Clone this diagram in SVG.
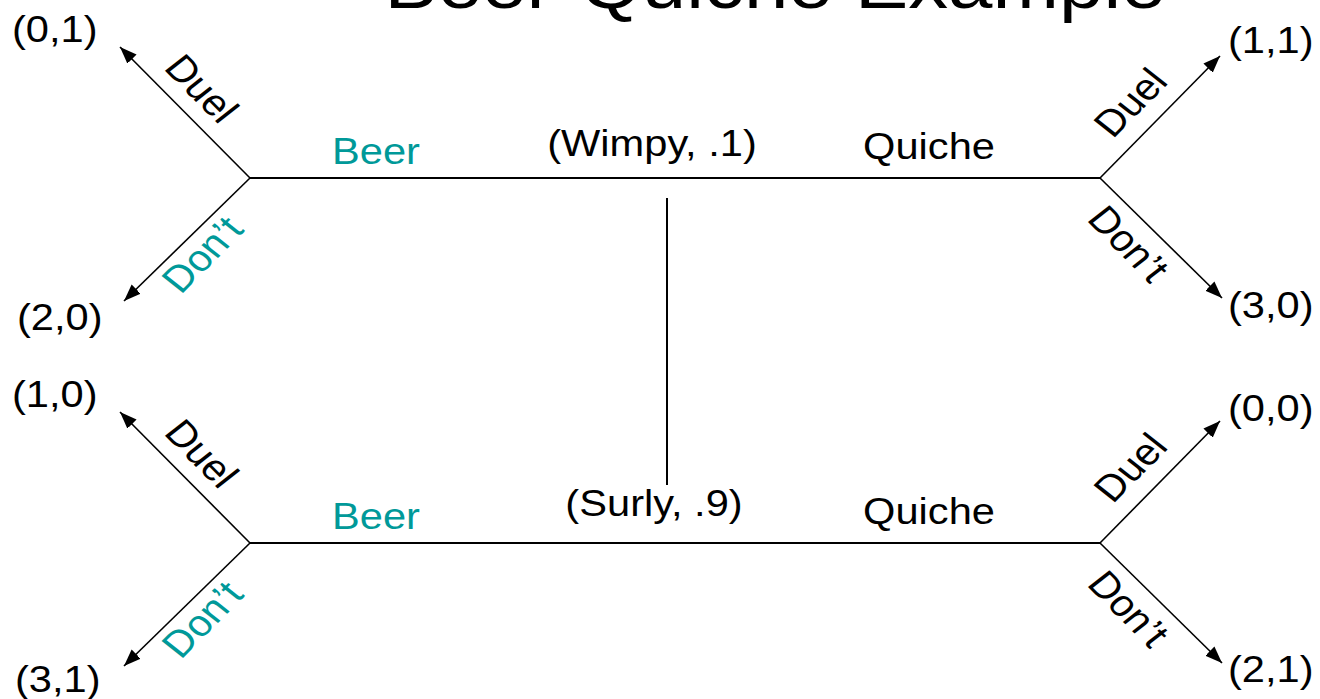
<svg xmlns="http://www.w3.org/2000/svg" width="1320" height="699" viewBox="0 0 1320 699">
<style>
text{font-family:"Liberation Sans",Arial,sans-serif;font-size:37px;fill:#000}
.teal{fill:#009999}
.title{font-size:71px}
.edge{stroke:#000;stroke-width:2;fill:none}
.arr{stroke:#000;stroke-width:1.6;fill:none;marker-end:url(#ah)}
</style>
<defs>
<marker id="ah" markerUnits="userSpaceOnUse" markerWidth="18" markerHeight="14" refX="17" refY="6.5" orient="auto">
<path d="M0,0 L17,6.5 L0,13 z" fill="#000"/>
</marker>
</defs>
<rect width="1320" height="699" fill="#fff"/>
<text class="title" text-anchor="middle" transform="translate(775,8) scale(1.125,1)">Beer-Quiche Example</text>
<g id="connectors">
<line class="edge" x1="250" y1="178" x2="1100" y2="178"/>
<line class="edge" x1="250" y1="543" x2="1100" y2="543"/>
<line class="edge" x1="667" y1="198" x2="667" y2="485"/>
<line class="arr" x1="250" y1="178" x2="120" y2="47"/>
<line class="arr" x1="250" y1="178" x2="124" y2="301"/>
<line class="arr" x1="1100" y1="178" x2="1220" y2="56"/>
<line class="arr" x1="1100" y1="178" x2="1222" y2="298"/>
<line class="arr" x1="250" y1="543" x2="120" y2="412"/>
<line class="arr" x1="250" y1="543" x2="124" y2="666"/>
<line class="arr" x1="1100" y1="543" x2="1220" y2="421"/>
<line class="arr" x1="1100" y1="543" x2="1222" y2="663"/>
</g>
<g id="wimpy">
<text text-anchor="middle" transform="translate(652,156) scale(1.125,1)">(Wimpy, .1)</text>
</g>
<g id="surly">
<text text-anchor="middle" transform="translate(654,516) scale(1.125,1)">(Surly, .9)</text>
</g>
<g id="edge-labels">
<text class="teal" text-anchor="middle" transform="translate(376,164) scale(1.125,1)">Beer</text>
<text text-anchor="middle" transform="translate(929,159) scale(1.125,1)">Quiche</text>
<text class="teal" text-anchor="middle" transform="translate(376,529) scale(1.125,1)">Beer</text>
<text text-anchor="middle" transform="translate(929,524) scale(1.125,1)">Quiche</text>
<text text-anchor="middle" transform="translate(191,97) scale(1.125,1) rotate(48.5)">Duel</text>
<text class="teal" text-anchor="middle" transform="translate(213,263) scale(1.125,1) rotate(-48.5)">Don’t</text>
<text text-anchor="middle" transform="translate(1141,111) scale(1.125,1) rotate(-48.5)">Duel</text>
<text text-anchor="middle" transform="translate(1118,252) scale(1.125,1) rotate(48.5)">Don’t</text>
<text text-anchor="middle" transform="translate(191,462) scale(1.125,1) rotate(48.5)">Duel</text>
<text class="teal" text-anchor="middle" transform="translate(213,628) scale(1.125,1) rotate(-48.5)">Don’t</text>
<text text-anchor="middle" transform="translate(1141,476) scale(1.125,1) rotate(-48.5)">Duel</text>
<text text-anchor="middle" transform="translate(1118,617) scale(1.125,1) rotate(48.5)">Don’t</text>
</g>
<g id="payoff-0-1"><text transform="translate(12,42) scale(1.125,1)">(0,1)</text></g>
<g id="payoff-2-0"><text transform="translate(17,330) scale(1.125,1)">(2,0)</text></g>
<g id="payoff-1-1"><text transform="translate(1228,53) scale(1.125,1)">(1,1)</text></g>
<g id="payoff-3-0"><text transform="translate(1228,318) scale(1.125,1)">(3,0)</text></g>
<g id="payoff-1-0"><text transform="translate(12,407) scale(1.125,1)">(1,0)</text></g>
<g id="payoff-3-1"><text transform="translate(15,692) scale(1.125,1)">(3,1)</text></g>
<g id="payoff-0-0"><text transform="translate(1228,421) scale(1.125,1)">(0,0)</text></g>
<g id="payoff-2-1"><text transform="translate(1228,682) scale(1.125,1)">(2,1)</text></g>
</svg>
